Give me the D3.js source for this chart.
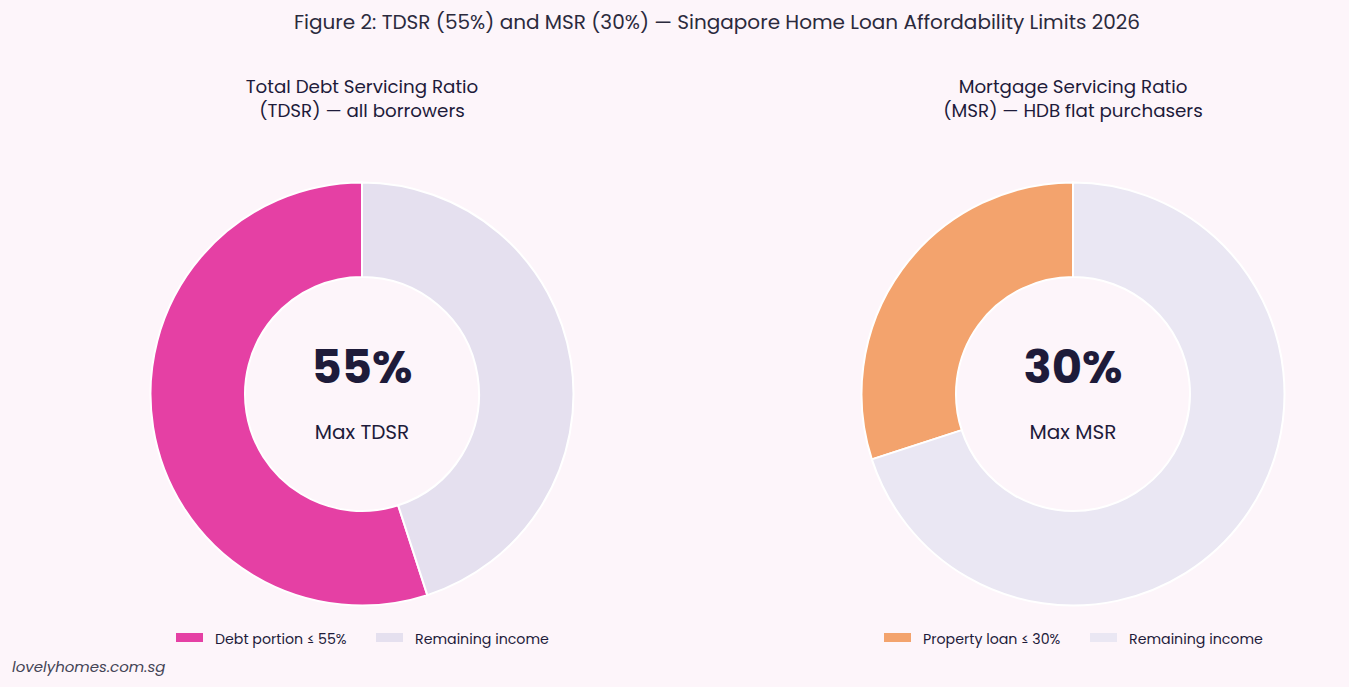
<!DOCTYPE html>
<html>
<head>
<meta charset="utf-8">
<script src="https://cdn.jsdelivr.net/npm/d3@7/dist/d3.min.js"></script>
<style>
  html, body { margin: 0; padding: 0; background: #fdf5fa; }
  svg { display: block; font-family: Poppins, "Inter", "Noto Sans", sans-serif; }
</style>
</head>
<body>
<svg id="chart"></svg>
<script>
// data
var chartTitle = "Figure 2: TDSR (55%) and MSR (30%) \u2014 Singapore Home Loan Affordability Limits 2026"
var panelTitles = [["Total Debt Servicing Ratio", "(TDSR) \u2014 all borrowers"], ["Mortgage Servicing Ratio", "(MSR) \u2014 HDB flat purchasers"]]
var tdsrLabels = ["Debt portion \u2264 55%", "Remaining income"]
var tdsrValues = [55, 45]
var msrLabels = ["Property loan \u2264 30%", "Remaining income"]
var msrValues = [30, 70]
var centerValues = ["55%", "30%"]
var centerLabels = ["Max TDSR", "Max MSR"]
var tdsrColors = ["#e540a4", "#e5e0ef"]
var msrColors = ["#f3a36d", "#eae7f3"]

var dimensions = {
  width: 1349,
  height: 687
}

var svg = d3.select("#chart")
  .attr("width", dimensions.width)
  .attr("height", dimensions.height)

svg.append("rect")
  .attr("width", dimensions.width)
  .attr("height", dimensions.height)
  .attr("fill", "#fdf5fa")

svg.append("text")
  .attr("x", 717)
  .attr("y", 29)
  .attr("text-anchor", "middle")
  .attr("font-size", 20)
  .attr("fill", "#2b2a3d")
  .text(chartTitle)

var panels = [
  {cx: 362, labels: tdsrLabels, values: tdsrValues, colors: tdsrColors, legendX: [176, 376]},
  {cx: 1073, labels: msrLabels, values: msrValues, colors: msrColors, legendX: [884, 1090]}
]

var cy = 394
var outerR = 211.5
var innerR = 117

panels.forEach((p, i) => {
  var g = svg.append("g")

  // subtitle
  g.append("text")
    .attr("x", p.cx)
    .attr("y", 93)
    .attr("text-anchor", "middle")
    .attr("font-size", 18.3)
    .attr("fill", "#1e1b3a")
    .selectAll("tspan")
    .data(panelTitles[i])
    .enter()
    .append("tspan")
      .attr("x", p.cx)
      .attr("dy", (d, j) => j == 0 ? 0 : 24)
      .text(d => d)

  var pie = d3.pie()
    .sort(null)
    .startAngle(0)
    .endAngle(-2 * Math.PI)

  var arc = d3.arc()
    .innerRadius(innerR)
    .outerRadius(outerR)

  var color = d3.scaleOrdinal()
    .domain(p.labels)
    .range(p.colors)

  g.append("g")
    .attr("transform", `translate(${p.cx},${cy})`)
    .selectAll("path")
    .data(pie(p.values))
    .enter()
    .append("path")
      .attr("d", arc)
      .attr("fill", (d, j) => color(p.labels[j]))
      .attr("stroke", "#ffffff")
      .attr("stroke-width", 2)

  g.append("text")
    .attr("x", p.cx)
    .attr("y", 383)
    .attr("text-anchor", "middle")
    .attr("font-size", 46.5)
    .attr("font-weight", "bold")
    .attr("fill", "#1e1b3a")
    .text(centerValues[i])

  g.append("text")
    .attr("x", p.cx)
    .attr("y", 439)
    .attr("text-anchor", "middle")
    .attr("font-size", 20)
    .attr("fill", "#1e1b3a")
    .text(centerLabels[i])

  // legend
  var legend = g.selectAll(".legend")
    .data(p.labels)
    .enter()
    .append("g")
      .attr("class", "legend")
      .attr("transform", (d, j) => `translate(${p.legendX[j]},638)`)

  legend.append("rect")
    .attr("x", 0)
    .attr("y", -5)
    .attr("width", 27)
    .attr("height", 9)
    .attr("fill", d => color(d))

  legend.append("text")
    .attr("x", 39)
    .attr("y", 6)
    .attr("font-size", 14.2)
    .attr("fill", "#1e1b3a")
    .text(d => d)
})

svg.append("text")
  .attr("x", 12)
  .attr("y", 672)
  .attr("font-size", 15)
  .attr("font-style", "italic")
  .attr("fill", "#444455")
  .text("lovelyhomes.com.sg")
</script>
</body>
</html>
